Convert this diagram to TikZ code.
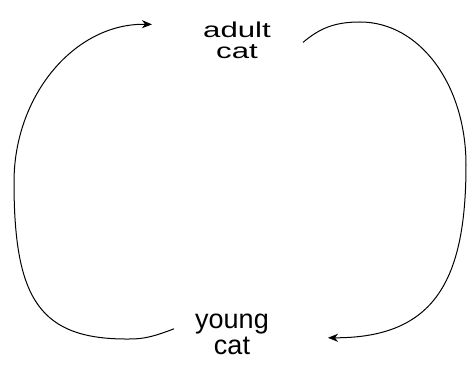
\documentclass[tikz,border=0pt]{standalone}
\usepackage{fontspec}
\setmainfont{Liberation Sans}
\newfontfamily\widesans[FakeStretch=1.45]{Liberation Sans}
\usepackage{tikz}
\usetikzlibrary{arrows.meta}
\tikzset{
  % life-stage labels
  stage/.style  = {align=center, inner sep=0pt, text=black},
  adultlbl/.style = {stage, font=\widesans\fontsize{21.5}{21}\selectfont},
  younglbl/.style = {stage, font=\fontsize{27}{26}\selectfont},
  arr/.style    = {-{Stealth[length=10pt,width=8pt,inset=3pt]}, line width=1pt, black},
}
\begin{document}
\begin{tikzpicture}[x=1pt,y=-1pt]
\useasboundingbox (0,0) rectangle (467,371);
\node[adultlbl] (adult) at (237,40.4) {adult\\cat};
\node[younglbl] (young) at (232,334.8) {young\\cat};
% growing up
\draw[arr] ([shift={(-21,-6)}]young.west)
  .. controls (155,336) and (145,339) .. (130,339)
  .. controls (40,340) and (14,300) .. (14,182)
  .. controls (14,95) and (75,23) .. ([shift={(-51,-16)}]adult.west);
% giving birth
\draw[arr] ([shift={(32,2)}]adult.east)
  .. controls (320,28) and (335,22) .. (360,22)
  .. controls (420,22) and (466,85) .. (466,165)
  .. controls (466,280) and (435,338) .. ([shift={(59,3)}]young.east);
\end{tikzpicture}
\end{document}
